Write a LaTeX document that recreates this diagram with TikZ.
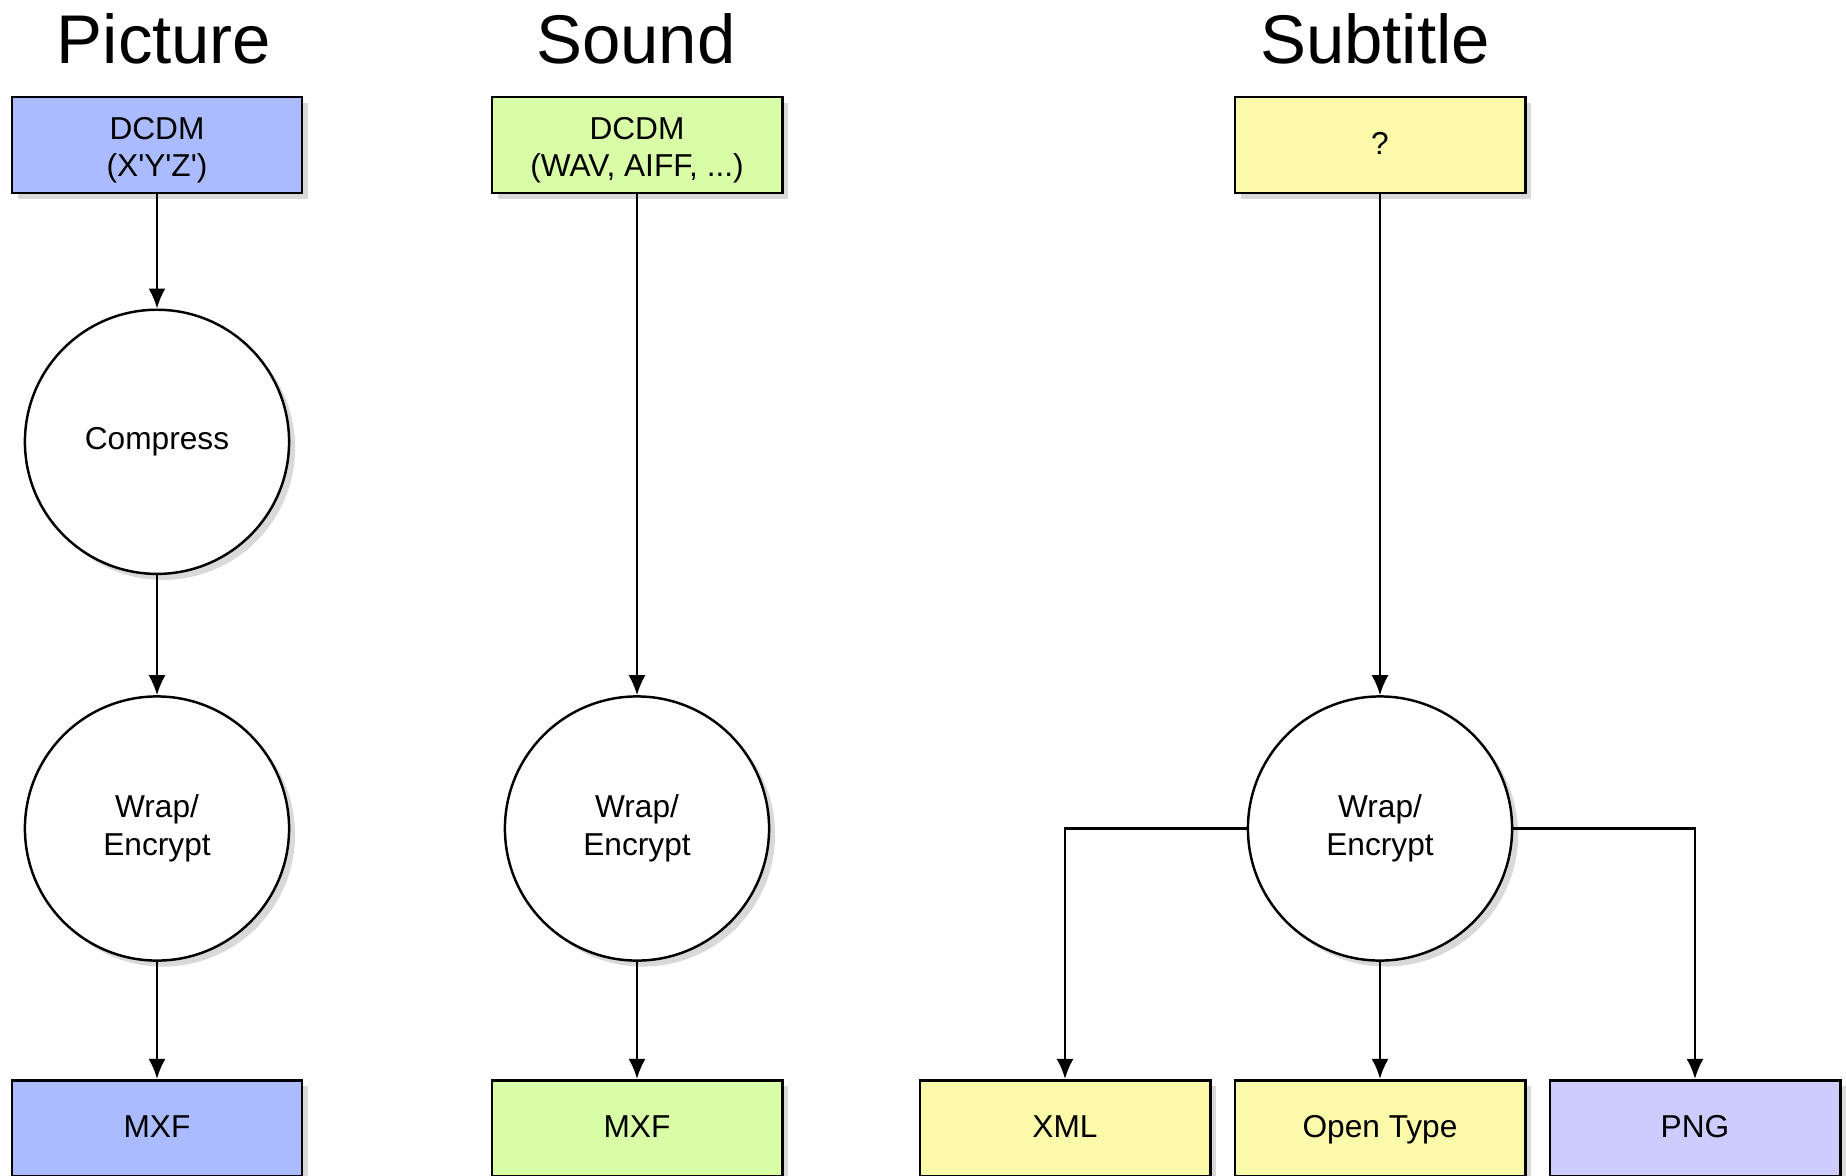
\documentclass[tikz,border=0pt]{standalone}
\usepackage{fontspec}
\setmainfont{Liberation Sans}
\usetikzlibrary{positioning,shadows,arrows.meta}

\definecolor{picblue}{RGB}{170,187,255}
\definecolor{sndgreen}{RGB}{217,252,166}
\definecolor{subyellow}{RGB}{250,250,170}
\definecolor{pnglilac}{RGB}{204,204,255}

\begin{document}
\begin{tikzpicture}[
  x=0.01cm, y=-0.01cm,
  title/.style={font=\fontsize{19.6pt}{22pt}\selectfont, anchor=base, inner sep=0pt},
  essence/.style={draw, line width=0.8pt, rectangle, minimum width=2.9cm,
    minimum height=0.96cm, align=center, font=\fontsize{9pt}{10.6pt}\selectfont,
    drop shadow={shadow xshift=0.06cm, shadow yshift=-0.06cm, opacity=0.3}},
  onerow/.style={text height=0.75em, text depth=0.22em},
  tworow/.style={text height=19.8pt, inner ysep=2pt},
  proc/.style={draw, line width=0.7pt, circle, minimum size=2.64cm, fill=white,
    align=center, font=\fontsize{9pt}{10.7pt}\selectfont,
    drop shadow={shadow xshift=0.06cm, shadow yshift=-0.06cm, opacity=0.3}},
  flow/.style={-{Latex[length=2mm,width=1.7mm]}, line width=0.6pt}
  ]
  \useasboundingbox (0,0) rectangle (1846,1175);

  \node[title] (TPic) at (164,63) {Picture};
  \node[title] (TSnd) at (636,63) {Sound};
  \node[title] (TSub) at (1375,63) {Subtitle};

  % picture column
  \node[essence, tworow, fill=picblue] (NPic) at (157,145)
    {DCDM\\(X\textquotesingle Y\textquotesingle Z\textquotesingle)};
  \node[proc, below=1.14cm of NPic] (NPicComp) {Compress};
  \node[proc, below=1.2cm of NPicComp] (NPicWrap) {Wrap/\\Encrypt};
  \node[essence, onerow, fill=picblue, below=1.17cm of NPicWrap] (NPicMXF) {MXF};

  % sound column
  \node[essence, tworow, fill=sndgreen] (NSnd) at (637,145) {DCDM\\(WAV, AIFF, ...)};
  \node[proc] (NSndWrap) at (NSnd |- NPicWrap) {Wrap/\\Encrypt};
  \node[essence, onerow, fill=sndgreen, below=1.17cm of NSndWrap] (NSndMXF) {MXF};

  % subtitle column
  \node[essence, onerow, fill=subyellow] (NSub) at (1380,145) {?};
  \node[proc] (NSubWrap) at (NSub |- NPicWrap) {Wrap/\\Encrypt};
  \node[essence, onerow, fill=subyellow, below=1.17cm of NSubWrap] (NSubOT) {Open Type};
  \node[essence, onerow, fill=subyellow, left=0.22cm of NSubOT] (NSubXML) {XML};
  \node[essence, onerow, fill=pnglilac, right=0.22cm of NSubOT] (NSubPNG) {PNG};

  \path[flow]
  (NPic)     edge (NPicComp)
  (NPicComp) edge (NPicWrap)
  (NPicWrap) edge (NPicMXF)
  (NSnd)     edge (NSndWrap)
  (NSndWrap) edge (NSndMXF)
  (NSub)     edge (NSubWrap)
  (NSubWrap) edge (NSubOT)
  ;
  \draw[flow] (NSubWrap) -| (NSubXML);
  \draw[flow] (NSubWrap) -| (NSubPNG);
\end{tikzpicture}
\end{document}
